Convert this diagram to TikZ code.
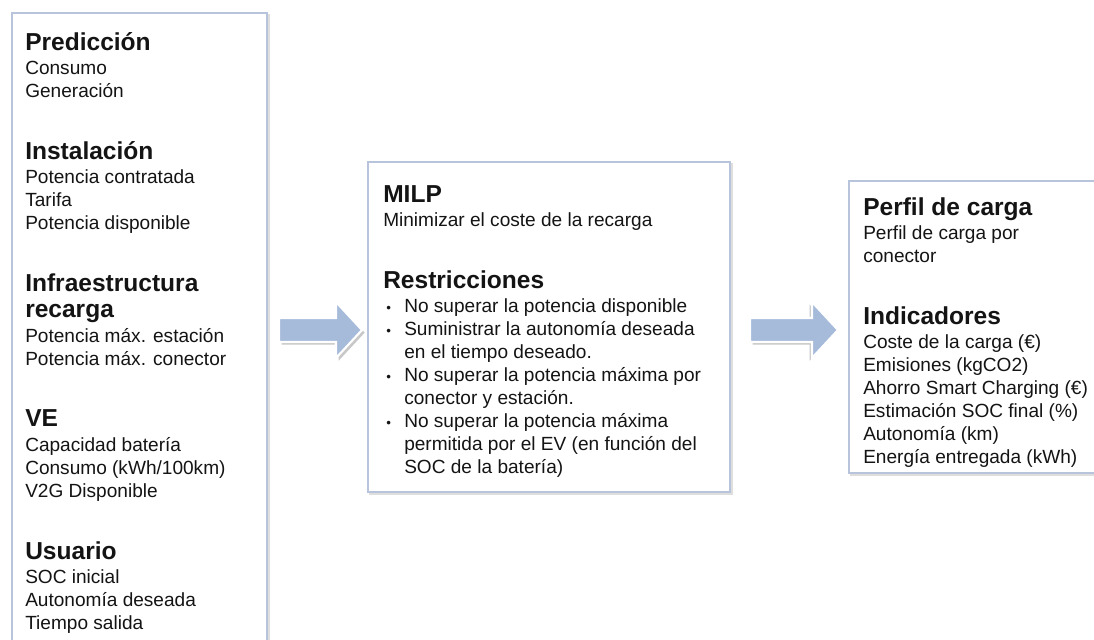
\documentclass[tikz,border=0pt]{standalone}
\usepackage{fontspec}
\setmainfont{Liberation Sans}
\definecolor{txt}{RGB}{20,20,20}
\definecolor{bordercol}{RGB}{184,196,220}
\definecolor{arrowfill}{RGB}{166,186,218}
\definecolor{shadowcol}{RGB}{200,200,200}
\tikzset{
  hd/.style={anchor=base west, inner sep=0pt, text=txt, font=\fontsize{18.4}{22}\selectfont\bfseries},
  bd/.style={anchor=base west, inner sep=0pt, text=txt, font=\fontsize{14.3}{17}\selectfont},
  bul/.style={anchor=base west, inner sep=0pt, text=txt, font=\fontsize{10}{12}\selectfont},
  panel/.style={draw=bordercol, line width=1.3pt, fill=white},
  panelshadow/.style={draw=shadowcol!60, line width=1pt},
  arrowbody/.style={fill=arrowfill, draw=white, line width=1.6pt, line join=miter},
  arrowshadow/.style={fill=shadowcol, draw=none}
}
\begin{document}
\begin{tikzpicture}[x=0.75pt,y=-0.75pt]
\path[use as bounding box] (0,0) rectangle (1094,639);
\clip (0,0) rectangle (1094,639);
\fill[white] (0,0) rectangle (1094,639);

% ---------- panels ----------
\draw[panelshadow] (14,15) rectangle (269,662);
\draw[panel] (12,13) rectangle (267,660);
\draw[panelshadow] (370,164) rectangle (732,494);
\draw[panel] (368,162) rectangle (730,492);
\draw[panelshadow] (851,183) rectangle (1112,475);
\draw[panel] (849,181) rectangle (1110,473);

% ---------- block arrows ----------
\coordinate (a1) at (279,330);
\coordinate (a2) at (750,330);
\foreach \c/\n in {a1/s1,a2/s2}{
  \fill[arrowshadow] ([xshift=2,yshift=-2]\c) ++(0,-12) -- ++(57,0) -- ++(0,-16) -- ++(26,28) -- ++(-26,28) -- ++(0,-16) -- ++(-57,0) -- cycle;
}
\draw[arrowbody] (a1) ++(0,-12) -- ++(57,0) -- ++(0,-16) -- ++(26,28) -- ++(-26,28) -- ++(0,-16) -- ++(-57,0) -- cycle;
\draw[arrowbody] (a2) ++(0,-12) -- ++(62,0) -- ++(0,-16) -- ++(26,28) -- ++(-26,28) -- ++(0,-16) -- ++(-62,0) -- cycle;

% ---------- left panel text ----------
\node[hd] (pred) at (25,50) {Predicción};
\node[bd] (pred1) at (25,74.5) {Consumo};
\node[bd] (pred2) at (25,97.5) {Generación};

\node[hd] (inst) at (25,159.25) {Instalación};
\node[bd] (inst1) at (25,183.75) {Potencia contratada};
\node[bd] (inst2) at (25,206.75) {Tarifa};
\node[bd] (inst3) at (25,229.75) {Potencia disponible};

\node[hd] (infa) at (25,291.5) {Infraestructura};
\node[hd] (infb) at (25,317.5) {recarga};
\node[bd] (inf1) at (25,342) {Potencia máx. estación};
\node[bd] (inf2) at (25,365) {Potencia máx. conector};

\node[hd] (ve) at (25,426.75) {VE};
\node[bd] (ve1) at (25,451.25) {Capacidad batería};
\node[bd] (ve2) at (25,474.25) {Consumo (kWh/100km)};
\node[bd] (ve3) at (25,497.25) {V2G Disponible};

\node[hd] (usu) at (25,559) {Usuario};
\node[bd] (usu1) at (25,583.5) {SOC inicial};
\node[bd] (usu2) at (25,606.5) {Autonomía deseada};
\node[bd] (usu3) at (25,629.5) {Tiempo salida};

% ---------- middle panel text ----------
\node[hd] (milp) at (383,202) {MILP};
\node[bd] (milp1) at (383,226.5) {Minimizar el coste de la recarga};
\node[hd] (rest) at (383,288.25) {Restricciones};
\node[bul] (bu1) at (386,312.75) {•};
\node[bd] (r1) at (404,312.75) {No superar la potencia disponible};
\node[bul] (bu2) at (386,335.75) {•};
\node[bd] (r2a) at (404,335.75) {Suministrar la autonomía deseada};
\node[bd] (r2b) at (404,358.75) {en el tiempo deseado.};
\node[bul] (bu3) at (386,381.75) {•};
\node[bd] (r3a) at (404,381.75) {No superar la potencia máxima por};
\node[bd] (r3b) at (404,404.75) {conector y estación.};
\node[bul] (bu4) at (386,427.75) {•};
\node[bd] (r4a) at (404,427.75) {No superar la potencia máxima};
\node[bd] (r4b) at (404,450.75) {permitida por el EV (en función del};
\node[bd] (r4c) at (404,473.75) {SOC de la batería)};

% ---------- right panel text ----------
\node[hd] (perf) at (863,215) {Perfil de carga};
\node[bd] (perf1) at (863,239.5) {Perfil de carga por};
\node[bd] (perf2) at (863,262.5) {conector};
\node[hd] (ind) at (863,324.25) {Indicadores};
\node[bd] (ind1) at (863,348.75) {Coste de la carga (€)};
\node[bd] (ind2) at (863,371.75) {Emisiones (kgCO2)};
\node[bd] (ind3) at (863,394.75) {Ahorro Smart Charging (€)};
\node[bd] (ind4) at (863,417.75) {Estimación SOC final (\%)};
\node[bd] (ind5) at (863,440.75) {Autonomía (km)};
\node[bd] (ind6) at (863,463.75) {Energía entregada (kWh)};
\end{tikzpicture}
\end{document}
